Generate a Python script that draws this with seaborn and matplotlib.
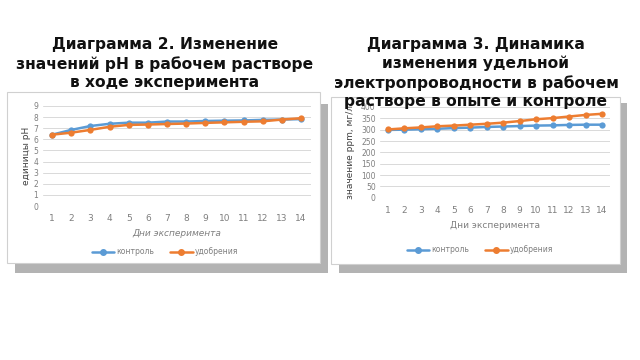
import matplotlib
matplotlib.use("Agg")
import matplotlib.pyplot as plt
from matplotlib.patches import Rectangle
from matplotlib.lines import Line2D
import seaborn as sns
import pandas as pd

days = list(range(1, 15))
ph_control = [6.42, 6.85, 7.2, 7.4, 7.5, 7.5, 7.6, 7.6, 7.65, 7.68, 7.7, 7.75, 7.78, 7.82]
ph_fert = [6.42, 6.6, 6.85, 7.13, 7.3, 7.33, 7.38, 7.42, 7.48, 7.53, 7.58, 7.62, 7.78, 7.9]
ec_control = [299, 300, 302, 304, 307, 309, 312, 314, 316, 318, 319, 321, 322, 322]
ec_fert = [301, 306, 310, 315, 318, 322, 326, 331, 338, 346, 351, 358, 365, 370]
series_names = ["контроль", "удобрения"]
title_left = "Диаграмма 2. Изменение\nзначений pH в рабочем растворе\nв ходе эксперимента"
title_right = "Диаграмма 3. Динамика\nизменения удельной\nэлектропроводности в рабочем\nрастворе в опыте и контроле"

BLUE = "#5b9bd5"
ORANGE = "#ed7d31"
TICK = "#7f7f7f"
GRID = "#d9d9d9"

sns.set_theme(style="white")
plt.rcParams['font.family'] = ['DejaVu Sans']

W, H = 640, 360
fig = plt.figure(figsize=(6.4, 3.6), dpi=100)
fig.patch.set_facecolor("white")


def frect(x0, y0, x1, y1):
    return (x0 / W, 1 - y1 / H, (x1 - x0) / W, (y1 - y0) / H)


def add_rect(x0, y0, x1, y1, fc, ec, z):
    l, b, w, h = frect(x0, y0, x1, y1)
    fig.patches.append(Rectangle((l, b), w, h, transform=fig.transFigure,
                                 facecolor=fc, edgecolor=ec, lw=0.8, zorder=z))


# shadows and chart boxes
add_rect(15, 104, 328, 273, "#b3b3b3", "none", -3)
add_rect(7, 92, 320, 263, "white", "#d0d0d0", -2)
add_rect(339, 103, 627, 273, "#b3b3b3", "none", -3)
add_rect(331, 97, 620, 264, "white", "#d0d0d0", -2)


def make_df(a, b):
    return pd.DataFrame({
        "day": days * 2,
        "value": a + b,
        "series": [series_names[0]] * len(days) + [series_names[1]] * len(days),
    })


def style_ax(ax, yticks):
    ax.set_facecolor("none")
    for s in ax.spines.values():
        s.set_visible(False)
    ax.set_yticks(yticks)
    ax.set_xticks(days)
    ax.set_xlim(0.5, 14.5)
    ax.set_ylim(yticks[0], yticks[-1])
    ax.grid(axis="y", color=GRID, lw=0.7)
    ax.tick_params(axis="both", length=0, colors=TICK, labelsize=5.5, pad=3)
    ax.tick_params(axis="x", labelsize=6.5, pad=6)
    ax.set_axisbelow(True)


# left chart
axl = fig.add_axes(frect(42.6, 106, 310.6, 206))
sns.lineplot(data=make_df(ph_control, ph_fert), x="day", y="value", hue="series",
             palette=[BLUE, ORANGE], marker="o", markersize=4.5, markeredgewidth=0,
             lw=1.8, ax=axl, legend=False)
style_ax(axl, list(range(0, 10)))
axl.set_xlabel("Дни эксперимента", fontsize=6.5, color=TICK, style="italic", labelpad=4)
axl.set_ylabel("единицы pH", fontsize=6.5, color="#404040", labelpad=2)

# right chart
axr = fig.add_axes(frect(379.8, 107, 610.2, 197.7))
sns.lineplot(data=make_df(ec_control, ec_fert), x="day", y="value", hue="series",
             palette=[BLUE, ORANGE], marker="o", markersize=4.5, markeredgewidth=0,
             lw=1.8, ax=axr, legend=False)
style_ax(axr, list(range(0, 401, 50)))
axr.set_xlabel("Дни эксперимента", fontsize=6.5, color=TICK, labelpad=4)
axr.set_ylabel("значение ppm, мг/л", fontsize=6.5, color="#404040", labelpad=4)

handles = [Line2D([], [], color=BLUE, marker="o", markersize=4, lw=1.8),
           Line2D([], [], color=ORANGE, marker="o", markersize=4, lw=1.8)]
for cx, cy in [(165, 252), (480, 250)]:
    fig.legend(handles, series_names, loc="center", bbox_to_anchor=(cx / W, 1 - cy / H),
               ncol=2, frameon=False, fontsize=5.5, labelcolor=TICK,
               handlelength=3, columnspacing=2, handletextpad=0.3)

fig.text(165 / W, 1 - 37 / H, title_left, ha="center", va="top", fontsize=11.2,
         fontweight="bold", color="#111111", linespacing=1.3, zorder=5)
fig.text(476 / W, 1 - 37 / H, title_right, ha="center", va="top", fontsize=11.2,
         fontweight="bold", color="#111111", linespacing=1.3, zorder=5)

fig.savefig("out.png", dpi=100)
